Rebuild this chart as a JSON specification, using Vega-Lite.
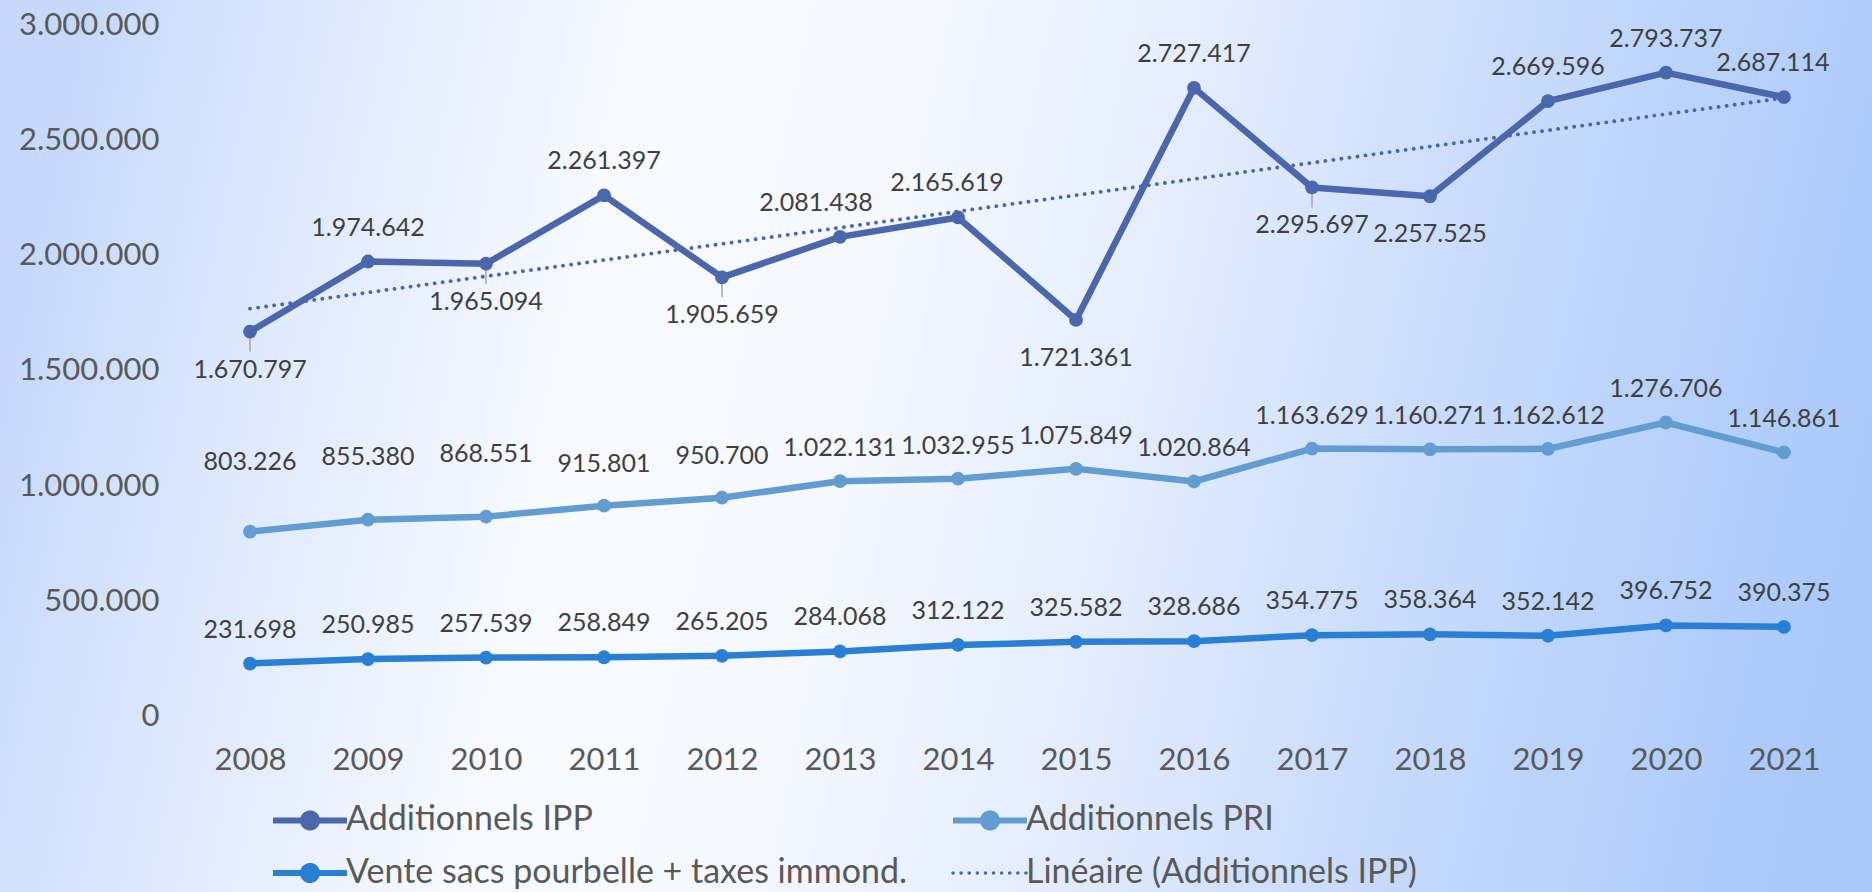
{
  "$schema": "https://vega.github.io/schema/vega-lite/v6.json",
  "width": 1872,
  "height": 892,
  "autosize": {"type": "none"},
  "padding": 0,
  "background": "#DCE8FD",
  "config": {
    "view": {
      "stroke": null,
      "fill": {
        "gradient": "linear",
        "x1": 0, "y1": 0.45, "x2": 1, "y2": 0.55,
        "stops": [
          {"offset": 0, "color": "#C6D9FC"},
          {"offset": 0.12, "color": "#DCE8FD"},
          {"offset": 0.3, "color": "#F8FAFF"},
          {"offset": 0.45, "color": "#F5F8FF"},
          {"offset": 0.6, "color": "#E4EDFE"},
          {"offset": 0.75, "color": "#CBDDFC"},
          {"offset": 0.88, "color": "#B8D2FB"},
          {"offset": 1, "color": "#A9C9FB"}
        ]
      }
    },
    "locale": {"number": {"decimal": ",", "thousands": ".", "grouping": [3], "currency": ["", " €"]}},
    "text": {"font": "Lato"}
  },
  "datasets": {
    "main": [
      {"year": 2008, "series": "Additionnels IPP", "value": 1670797},
      {"year": 2009, "series": "Additionnels IPP", "value": 1974642},
      {"year": 2010, "series": "Additionnels IPP", "value": 1965094},
      {"year": 2011, "series": "Additionnels IPP", "value": 2261397},
      {"year": 2012, "series": "Additionnels IPP", "value": 1905659},
      {"year": 2013, "series": "Additionnels IPP", "value": 2081438},
      {"year": 2014, "series": "Additionnels IPP", "value": 2165619},
      {"year": 2015, "series": "Additionnels IPP", "value": 1721361},
      {"year": 2016, "series": "Additionnels IPP", "value": 2727417},
      {"year": 2017, "series": "Additionnels IPP", "value": 2295697},
      {"year": 2018, "series": "Additionnels IPP", "value": 2257525},
      {"year": 2019, "series": "Additionnels IPP", "value": 2669596},
      {"year": 2020, "series": "Additionnels IPP", "value": 2793737},
      {"year": 2021, "series": "Additionnels IPP", "value": 2687114},
      {"year": 2008, "series": "Additionnels PRI", "value": 803226},
      {"year": 2009, "series": "Additionnels PRI", "value": 855380},
      {"year": 2010, "series": "Additionnels PRI", "value": 868551},
      {"year": 2011, "series": "Additionnels PRI", "value": 915801},
      {"year": 2012, "series": "Additionnels PRI", "value": 950700},
      {"year": 2013, "series": "Additionnels PRI", "value": 1022131},
      {"year": 2014, "series": "Additionnels PRI", "value": 1032955},
      {"year": 2015, "series": "Additionnels PRI", "value": 1075849},
      {"year": 2016, "series": "Additionnels PRI", "value": 1020864},
      {"year": 2017, "series": "Additionnels PRI", "value": 1163629},
      {"year": 2018, "series": "Additionnels PRI", "value": 1160271},
      {"year": 2019, "series": "Additionnels PRI", "value": 1162612},
      {"year": 2020, "series": "Additionnels PRI", "value": 1276706},
      {"year": 2021, "series": "Additionnels PRI", "value": 1146861},
      {"year": 2008, "series": "Vente sacs pourbelle + taxes immond.", "value": 231698},
      {"year": 2009, "series": "Vente sacs pourbelle + taxes immond.", "value": 250985},
      {"year": 2010, "series": "Vente sacs pourbelle + taxes immond.", "value": 257539},
      {"year": 2011, "series": "Vente sacs pourbelle + taxes immond.", "value": 258849},
      {"year": 2012, "series": "Vente sacs pourbelle + taxes immond.", "value": 265205},
      {"year": 2013, "series": "Vente sacs pourbelle + taxes immond.", "value": 284068},
      {"year": 2014, "series": "Vente sacs pourbelle + taxes immond.", "value": 312122},
      {"year": 2015, "series": "Vente sacs pourbelle + taxes immond.", "value": 325582},
      {"year": 2016, "series": "Vente sacs pourbelle + taxes immond.", "value": 328686},
      {"year": 2017, "series": "Vente sacs pourbelle + taxes immond.", "value": 354775},
      {"year": 2018, "series": "Vente sacs pourbelle + taxes immond.", "value": 358364},
      {"year": 2019, "series": "Vente sacs pourbelle + taxes immond.", "value": 352142},
      {"year": 2020, "series": "Vente sacs pourbelle + taxes immond.", "value": 396752},
      {"year": 2021, "series": "Vente sacs pourbelle + taxes immond.", "value": 390375},
      {"year": 2008, "series": "Linéaire (Additionnels IPP)", "value": 1770000},
      {"year": 2021, "series": "Linéaire (Additionnels IPP)", "value": 2684000}
    ],
    "grid": [
      {"value": 0}, {"value": 500000}, {"value": 1000000}, {"value": 1500000},
      {"value": 2000000}, {"value": 2500000}, {"value": 3000000}
    ]
  },
  "data": {"name": "main"},
  "encoding": {
    "x": {
      "field": "year", "type": "quantitative",
      "scale": {"domain": [2005.881, 2021.746], "nice": false, "zero": false},
      "axis": {
        "values": [2008, 2009, 2010, 2011, 2012, 2013, 2014, 2015, 2016, 2017, 2018, 2019, 2020, 2021],
        "format": "d", "title": null, "domain": false, "ticks": false, "grid": false,
        "labelFont": "Lato", "labelFontSize": 31, "labelColor": "#595959",
        "labelPadding": 28, "offset": -175, "labelFlush": false, "labelOverlap": false, "labelBound": false
      }
    },
    "y": {
      "field": "value", "type": "quantitative",
      "scale": {"domain": [-758890, 3108413], "nice": false, "zero": false},
      "axis": {
        "values": [0, 500000, 1000000, 1500000, 2000000, 2500000, 3000000],
        "format": ",d", "title": null, "domain": false, "ticks": false, "grid": false,
        "labelFont": "Lato", "labelFontSize": 31, "labelColor": "#595959",
        "labelPadding": 32, "offset": -191, "labelFlush": false, "labelOverlap": false, "labelBound": false
      }
    },
    "color": {
      "field": "series", "type": "nominal",
      "scale": {
        "domain": ["Additionnels IPP", "Additionnels PRI", "Vente sacs pourbelle + taxes immond.", "Linéaire (Additionnels IPP)"],
        "range": ["#4A66AC", "#629DD1", "#297FD5", "#4A66AC"]
      },
      "legend": {
        "title": null, "orient": "none", "legendX": 293, "legendY": 803,
        "direction": "horizontal",
        "columns": 2, "columnPadding": 33, "rowPadding": 13, "padding": 0,
        "symbolSize": 5476, "symbolStrokeWidth": 6,
        "symbolType": "M-1,0L1,0M-0.19,0A0.19,0.19,0,1,0,0.19,0A0.19,0.19,0,1,0,-0.19,0Z",
        "labelFont": "Lato", "labelFontSize": 34, "labelColor": "#595959", "labelOffset": 19, "labelLimit": 800,
        "encode": {
          "symbols": {
            "update": {
              "shape": {"signal": "datum.value === 'Linéaire (Additionnels IPP)' ? 'M-1,0L1,0' : 'M-1,0L1,0M-0.19,0A0.19,0.19,0,1,0,0.19,0A0.19,0.19,0,1,0,-0.19,0Z'"},
              "strokeDash": {"signal": "datum.value === 'Linéaire (Additionnels IPP)' ? [0.1, 8] : [1, 0]"},
              "strokeWidth": {"signal": "datum.value === 'Linéaire (Additionnels IPP)' ? 3.5 : 6"},
              "strokeCap": {"signal": "datum.value === 'Linéaire (Additionnels IPP)' ? 'round' : 'butt'"},
              "fill": {"signal": "scale('color', datum.value)"},
              "stroke": {"signal": "scale('color', datum.value)"},
              "opacity": {"value": 1}
            }
          }
        }
      }
    }
  },
  "layer": [
    {
      "data": {"name": "grid"},
      "mark": {"type": "rule", "strokeWidth": 1.5},
      "encoding": {
        "x": {"datum": 2007.5},
        "x2": {"datum": 2021.5},
        "color": {"value": "#D9D9D9"}
      }
    },
    {
      "transform": [{"filter": {"and": [{"field": "series", "equal": "Additionnels IPP"}, {"field": "year", "oneOf": [2008, 2010, 2012, 2017]}]}}],
      "mark": {"type": "rule", "strokeWidth": 1.5, "y2Offset": 20},
      "encoding": {
        "y2": {"field": "value"},
        "color": {"value": "#A6A6A6"}
      }
    },
    {
      "transform": [{"filter": {"not": {"field": "series", "equal": "Linéaire (Additionnels IPP)"}}}],
      "mark": {"type": "line", "strokeWidth": 6.5, "strokeJoin": "round"},
      "encoding": {"detail": {"field": "series"}}
    },
    {
      "transform": [{"filter": {"field": "series", "equal": "Linéaire (Additionnels IPP)"}}],
      "mark": {"type": "line", "strokeWidth": 3.8, "strokeDash": [0.1, 8], "strokeCap": "round"},
      "encoding": {}
    },
    {
      "transform": [{"filter": {"not": {"field": "series", "equal": "Linéaire (Additionnels IPP)"}}}],
      "mark": {"type": "point", "filled": true, "size": 190, "opacity": 1},
      "encoding": {}
    },
    {
      "transform": [{"filter": {"and": [{"field": "series", "equal": "Additionnels IPP"}, {"field": "year", "oneOf": [2009, 2011, 2016, 2019, 2020]}]}}],
      "mark": {"type": "text", "font": "Lato", "fontSize": 25, "dy": -34},
      "encoding": {"text": {"field": "value", "format": ",d"}, "color": {"value": "#404040"}}
    },
    {
      "transform": [{"filter": {"and": [{"field": "series", "equal": "Additionnels IPP"}, {"field": "year", "oneOf": [2013]}]}}],
      "mark": {"type": "text", "font": "Lato", "fontSize": 25, "dy": -34, "dx": -24},
      "encoding": {"text": {"field": "value", "format": ",d"}, "color": {"value": "#404040"}}
    },
    {
      "transform": [{"filter": {"and": [{"field": "series", "equal": "Additionnels IPP"}, {"field": "year", "oneOf": [2014, 2021]}]}}],
      "mark": {"type": "text", "font": "Lato", "fontSize": 25, "dy": -34, "dx": -11},
      "encoding": {"text": {"field": "value", "format": ",d"}, "color": {"value": "#404040"}}
    },
    {
      "transform": [{"filter": {"and": [{"field": "series", "equal": "Additionnels IPP"}, {"field": "year", "oneOf": [2008, 2010, 2012, 2015, 2017, 2018]}]}}],
      "mark": {"type": "text", "font": "Lato", "fontSize": 25, "dy": 38},
      "encoding": {"text": {"field": "value", "format": ",d"}, "color": {"value": "#404040"}}
    },
    {
      "transform": [{"filter": {"and": [{"field": "series", "equal": "Additionnels PRI"}, {"field": "year", "oneOf": [2013, 2014, 2015, 2016, 2017, 2018, 2019, 2020, 2021]}]}}],
      "mark": {"type": "text", "font": "Lato", "fontSize": 25, "dy": -33},
      "encoding": {"text": {"field": "value", "format": ",d"}, "color": {"value": "#404040"}}
    },
    {
      "transform": [{"filter": {"and": [{"field": "series", "equal": "Additionnels PRI"}, {"field": "year", "oneOf": [2008]}]}}],
      "mark": {"type": "text", "font": "Lato", "fontSize": 25, "dy": -70},
      "encoding": {"text": {"field": "value", "format": ",d"}, "color": {"value": "#404040"}}
    },
    {
      "transform": [{"filter": {"and": [{"field": "series", "equal": "Additionnels PRI"}, {"field": "year", "oneOf": [2009, 2010]}]}}],
      "mark": {"type": "text", "font": "Lato", "fontSize": 25, "dy": -63},
      "encoding": {"text": {"field": "value", "format": ",d"}, "color": {"value": "#404040"}}
    },
    {
      "transform": [{"filter": {"and": [{"field": "series", "equal": "Additionnels PRI"}, {"field": "year", "oneOf": [2011, 2012]}]}}],
      "mark": {"type": "text", "font": "Lato", "fontSize": 25, "dy": -42},
      "encoding": {"text": {"field": "value", "format": ",d"}, "color": {"value": "#404040"}}
    },
    {
      "transform": [{"filter": {"field": "series", "equal": "Vente sacs pourbelle + taxes immond."}}],
      "mark": {"type": "text", "font": "Lato", "fontSize": 25, "dy": -34},
      "encoding": {"text": {"field": "value", "format": ",d"}, "color": {"value": "#404040"}}
    }
  ]
}
